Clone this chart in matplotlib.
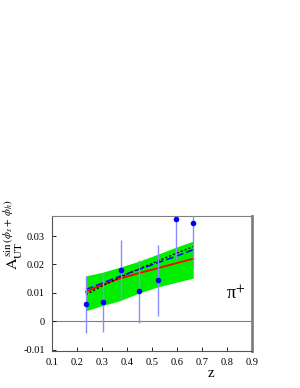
import numpy as np
import matplotlib.pyplot as plt

# data points
z_pts = [0.236, 0.305, 0.375, 0.449, 0.525, 0.596, 0.665]
a_pts = [0.0060, 0.0067, 0.0181, 0.0105, 0.0144, 0.0360, 0.0346]
a_err = [0.0100, 0.0103, 0.0105, 0.0110, 0.0125, 0.0140, 0.0155]

# curves
z_curve = [0.236, 0.30, 0.37, 0.45, 0.52, 0.60, 0.665]
band_lo = [0.0037, 0.0055, 0.0072, 0.0100, 0.0120, 0.0138, 0.0152]
band_hi = [0.0160, 0.0172, 0.0190, 0.0212, 0.0235, 0.0262, 0.0282]
red_line = [0.0104, 0.0128, 0.0150, 0.0170, 0.0186, 0.0205, 0.0220]
blue_line = [0.0112, 0.0134, 0.0158, 0.0183, 0.0205, 0.0230, 0.0252]
black_line = [0.0094, 0.0124, 0.0154, 0.0185, 0.0211, 0.0240, 0.0263]

plt.rcParams['font.family'] = 'Liberation Serif'
plt.rcParams['mathtext.fontset'] = 'stix'

fig = plt.figure(figsize=(3.0, 3.88), dpi=100)
ax = fig.add_axes([0.173, 0.095, 0.667, 0.348])

ax.fill_between(z_curve, band_lo, band_hi, color='#00ee00', lw=0, zorder=1)
ax.plot(z_curve, red_line, color='red', lw=1.3, zorder=2)
ax.plot(z_curve, blue_line, color='blue', lw=1.1, dashes=(5, 2), zorder=3)
ax.plot(z_curve, black_line, color='black', lw=1.0, dashes=(1.5, 1.5), zorder=3)
ax.axhline(0, color='grey', lw=0.8, zorder=0)

ax.errorbar(z_pts, a_pts, yerr=a_err, fmt='o', color='blue', ms=3,
            ecolor=(0.55, 0.55, 1.0), elinewidth=1.0, capsize=0, zorder=4)

ax.set_xlim(0.1, 0.9)
ax.set_ylim(-0.0105, 0.037)
ax.set_xticks(np.arange(0.1, 0.95, 0.1))
ax.set_xticklabels(['0.1', '0.2', '0.3', '0.4', '0.5', '0.6', '0.7', '0.8', '0.9'])
ax.set_yticks([-0.01, 0, 0.01, 0.02, 0.03])
ax.set_yticklabels(['-0.01', '0', '0.01', '0.02', '0.03'])
ax.tick_params(direction='in', labelsize=7.5, length=3, width=0.6, pad=5)

for s in ['left', 'bottom']:
    ax.spines[s].set_color('#555555')
    ax.spines[s].set_linewidth(0.8)
ax.spines['top'].set_color('grey')
ax.spines['top'].set_linewidth(0.8)
ax.spines['right'].set_color('grey')
ax.spines['right'].set_linewidth(2)

ax.set_xlabel('z', fontsize=11)
ax.xaxis.set_label_coords(0.795, -0.12)

fig.text(0.045, 0.395, r'$\mathrm{A}_{\mathrm{UT}}^{\,\mathrm{sin}\,(\phi_s+\,\phi_h)}$',
         rotation=90, fontsize=11.5, ha='center', va='center')
ax.text(0.92, 0.42, r'π$^{+}$', transform=ax.transAxes, fontsize=13,
        ha='center', va='center')

fig.savefig('out.png', dpi=100)
